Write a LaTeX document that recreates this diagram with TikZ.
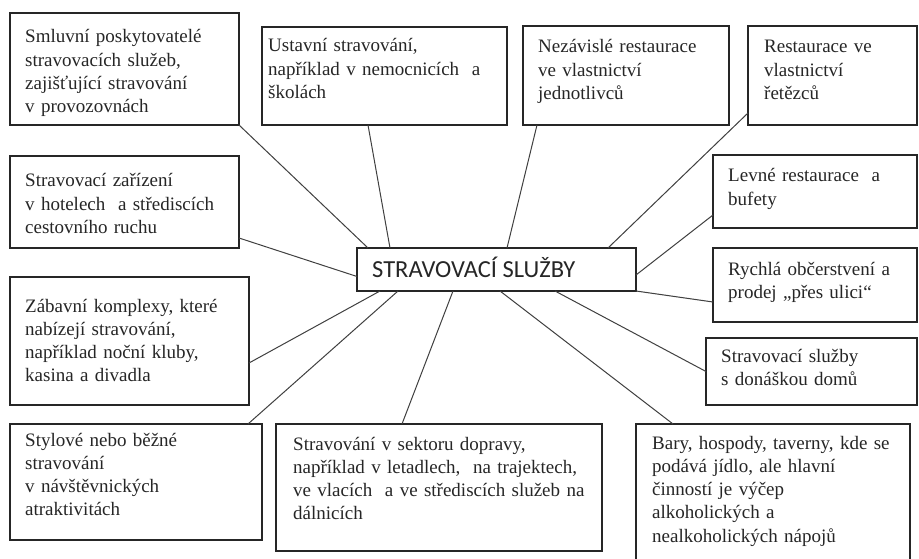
\documentclass[tikz,border=0pt]{standalone}
\usepackage{fontspec}
\setmainfont{Liberation Serif}
\newfontfamily\tnr{Liberation Serif}
\newfontfamily\calib{Carlito}
\usetikzlibrary{calc}
\begin{document}
\begin{tikzpicture}[x=1pt,y=-1pt,
  box/.style={draw=black!85, line width=1.3pt, inner sep=0pt, outer sep=0pt, anchor=north west},
  txt/.style={anchor=base west, inner sep=0pt, align=left, text width=#1, font=\tnr\fontsize{19}{23.3}\selectfont, text=black!85},
  link/.style={draw=black!75, line width=1pt}]
\useasboundingbox[fill=white] (0,0) rectangle (919,559);
\clip (0,0) rectangle (919,559);
% boxes
\node[box, minimum width=229, minimum height=112] (b1) at (10,13) {};
\node[box, minimum width=245, minimum height=98] (b2) at (262,27) {};
\node[box, minimum width=206, minimum height=99] (b3) at (523,26) {};
\node[box, minimum width=169, minimum height=99] (b4) at (748,26) {};
\node[box, minimum width=229, minimum height=92] (b5) at (10,156) {};
\node[box, minimum width=279, minimum height=43] (c) at (357,248) {};
\node[box, minimum width=239, minimum height=128] (b6) at (10,277) {};
\node[box, minimum width=252, minimum height=116] (b7) at (10,424) {};
\node[box, minimum width=326, minimum height=127] (b8) at (276,424) {};
\node[box, minimum width=274, minimum height=150] (b9) at (636,424) {};
\node[box, minimum width=204, minimum height=73] (b10) at (713,155) {};
\node[box, minimum width=204, minimum height=74] (b11) at (713,248) {};
\node[box, minimum width=211, minimum height=67] (b12) at (706,338) {};
% texts
\node[txt=220] (t1) at (25,43) {Smluvní poskytovatelé\\ stravovacích služeb,\\ zajišťující stravování\\ v provozovnách};
\node[txt=240] (t2) at (268,52) {Ustavní stravování,\\ například v nemocnicích~ a\\ školách};
\node[txt=200] (t3) at (538,53) {Nezávislé restaurace\\ ve vlastnictví\\ jednotlivců};
\node[txt=160] (t4) at (764,53) {Restaurace ve\\ vlastnictví\\ řetězců};
\node[txt=220] (t5) at (25,187) {Stravovací zařízení\\ v hotelech~ a střediscích\\ cestovního ruchu};
\node[txt=230] (t6) at (25,312) {Zábavní komplexy, které\\ nabízejí stravování,\\ například noční kluby,\\ kasina a divadla};
\node[txt=240] (t7) at (25,446) {Stylové nebo běžné\\ stravování\\ v návštěvnických\\ atraktivitách};
\node[txt=320] (t8) at (293,450) {Stravování v sektoru dopravy,\\ například v letadlech,~ na trajektech,\\ ve vlacích~ a ve střediscích služeb na\\ dálnicích};
\node[txt=270] (t9) at (652,449) {Bary, hospody, taverny, kde se\\ podává jídlo, ale hlavní\\ činností je výčep\\ alkoholických a\\ nealkoholických nápojů};
\node[txt=200] (t10) at (728,182) {Levné restaurace~ a\\ bufety};
\node[txt=200] (t11) at (728,275) {Rychlá občerstvení a\\ prodej „přes ulici“};
\node[txt=200] (t12) at (721,362) {Stravovací služby\\ s donáškou domů};
\node[anchor=base west, inner sep=0pt, text=black!85, font=\calib\fontsize{24.5}{28}\selectfont] (ct) at (372,277) {STRAVOVACÍ SLUŽBY};
% connectors
\draw[link] (b1.south east) -- ($(c.north west)+(11,0)$);
\draw[link] ($(b2.south west)+(106,0)$) -- ($(c.north west)+(33,0)$);
\draw[link] ($(b3.south west)+(14,0)$) -- ($(c.north west)+(150,0)$);
\draw[link] ($(b4.south west)+(0,-12)$) -- ($(c.north east)+(-28,0)$);
\draw[link] ($(b10.south west)+(0,-13)$) -- ($(c.south east)+(0,-16)$);
\draw[link] (c.south east) -- ($(b11.west)+(0,17)$);
\draw[link] ($(c.south west)+(198,0)$) -- (b12.west);
\draw[link] ($(c.south west)+(143,0)$) -- ($(b9.north west)+(37,0)$);
\draw[link] ($(c.south west)+(96,0)$) -- ($(b8.north west)+(126,0)$);
\draw[link] ($(c.south west)+(41,0)$) -- ($(b7.north east)+(-14,0)$);
\draw[link] ($(c.south west)+(23,0)$) -- ($(b6.east)+(0,22)$);
\draw[link] ($(b5.south east)+(0,-10)$) -- ($(c.west)+(0,7)$);
\end{tikzpicture}
\end{document}
